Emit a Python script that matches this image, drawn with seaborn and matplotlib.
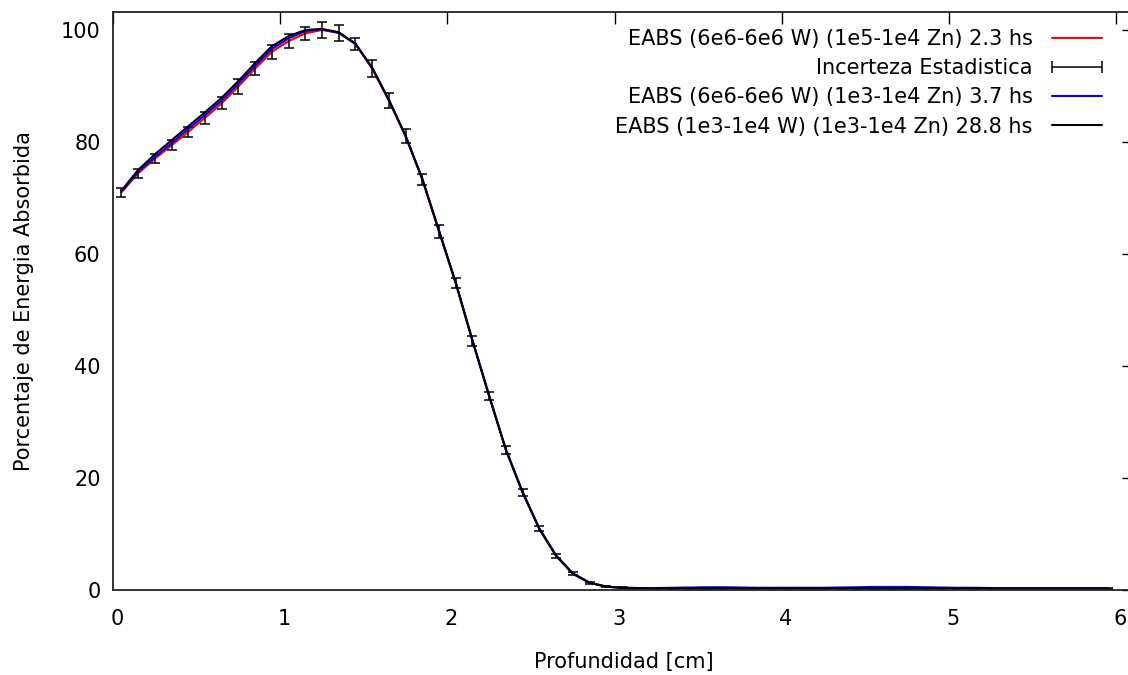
import numpy as np
import pandas as pd
import matplotlib
matplotlib.use("Agg")
import matplotlib.pyplot as plt
import matplotlib.transforms as mtransforms
import seaborn as sns
from matplotlib.lines import Line2D

# ---------------- data ----------------
depth = [0.05, 0.15, 0.25, 0.35, 0.45, 0.55, 0.65, 0.75, 0.85, 0.95,
         1.05, 1.15, 1.25, 1.35, 1.45, 1.55, 1.65, 1.75, 1.85, 1.95,
         2.05, 2.15, 2.25, 2.35, 2.45, 2.55, 2.65, 2.75, 2.85, 2.95,
         3.05, 3.15, 3.25, 3.35, 3.45, 3.55, 3.65, 3.75, 3.85, 3.95,
         4.05, 4.15, 4.25, 4.35, 4.45, 4.55, 4.65, 4.75, 4.85, 4.95,
         5.05, 5.15, 5.25, 5.35, 5.45, 5.55, 5.65, 5.75, 5.85, 5.95]

# EABS (6e6-6e6 W) (1e5-1e4 Zn) 2.3 hs  (red)
eabs_red = [71.0, 74.4, 77.0, 79.4, 81.8, 84.3, 86.9, 89.9, 93.1, 96.1,
            98.0, 99.4, 100.0, 99.5, 97.5, 93.1, 87.4, 81.0, 73.3, 64.0,
            54.8, 44.5, 34.6, 25.0, 17.4, 10.9, 6.1, 2.9, 1.3, 0.6,
            0.4, 0.35, 0.3, 0.3, 0.3, 0.3, 0.3, 0.3, 0.3, 0.3,
            0.3, 0.3, 0.3, 0.3, 0.3, 0.3, 0.3, 0.3, 0.3, 0.3,
            0.3, 0.3, 0.3, 0.3, 0.3, 0.3, 0.3, 0.3, 0.3, 0.3]

# statistical uncertainty of the red series
err_red = [0.85, 0.75, 0.8, 0.9, 0.9, 1.1, 1.05, 1.3, 1.2, 1.3,
           1.2, 1.1, 1.4, 1.4, 1.1, 1.5, 1.4, 1.25, 1.0, 1.1,
           0.95, 0.85, 0.7, 0.65, 0.55, 0.45, 0.36, 0.3, 0.2, 0.12,
           0.08, 0.08, 0.08, 0.08, 0.08, 0.08, 0.08, 0.08, 0.08, 0.08,
           0.08, 0.08, 0.08, 0.08, 0.08, 0.08, 0.08, 0.08, 0.08, 0.08,
           0.08, 0.08, 0.08, 0.08, 0.08, 0.08, 0.08, 0.08, 0.08, 0.08]

# EABS (6e6-6e6 W) (1e3-1e4 Zn) 3.7 hs  (blue)
eabs_blue = [71.1, 74.7, 77.3, 79.8, 82.3, 84.8, 87.4, 90.4, 93.6, 96.6,
             98.5, 99.8, 100.1, 99.5, 97.5, 93.2, 87.5, 81.1, 73.4, 64.2,
             54.9, 44.6, 34.7, 25.1, 17.5, 11.0, 6.2, 3.0, 1.3, 0.6,
             0.4, 0.35, 0.35, 0.4, 0.45, 0.5, 0.5, 0.45, 0.4, 0.4,
             0.4, 0.4, 0.4, 0.45, 0.5, 0.55, 0.55, 0.55, 0.5, 0.45,
             0.4, 0.4, 0.35, 0.35, 0.35, 0.35, 0.35, 0.35, 0.35, 0.35]

# EABS (1e3-1e4 W) (1e3-1e4 Zn) 28.8 hs  (black)
eabs_black = [71.3, 75.0, 77.8, 80.3, 82.8, 85.3, 87.9, 90.9, 94.1, 97.1,
              98.9, 100.0, 100.2, 99.6, 97.6, 93.3, 87.5, 81.1, 73.4, 64.1,
              54.8, 44.5, 34.6, 25.0, 17.4, 10.9, 6.1, 2.9, 1.3, 0.6,
              0.35, 0.3, 0.3, 0.3, 0.3, 0.3, 0.3, 0.3, 0.3, 0.3,
              0.3, 0.3, 0.3, 0.3, 0.3, 0.3, 0.3, 0.3, 0.3, 0.3,
              0.3, 0.3, 0.3, 0.3, 0.3, 0.3, 0.3, 0.3, 0.3, 0.3]

labels = ["EABS (6e6-6e6 W) (1e5-1e4 Zn) 2.3 hs",
          "Incerteza Estadistica",
          "EABS (6e6-6e6 W) (1e3-1e4 Zn) 3.7 hs",
          "EABS (1e3-1e4 W) (1e3-1e4 Zn) 28.8 hs"]
x_ticks = [0, 1, 2, 3, 4, 5, 6]
y_ticks = [0, 20, 40, 60, 80, 100]

# ---------------- style ----------------
sns.set_theme(style="white")
plt.rcParams['font.family'] = ['DejaVu Sans']
plt.rcParams['text.color'] = 'black'
plt.rcParams['axes.labelcolor'] = 'black'
FS = 15

W, H = 1128, 675
fig = plt.figure(figsize=(W / 100, H / 100), dpi=100)
left_px, right_px, top_px, bottom_px = 113, 1134, 12, 590
ax = fig.add_axes([left_px / W, (H - bottom_px) / H,
                   (right_px - left_px) / W, (bottom_px - top_px) / H])

df_red = pd.DataFrame({"depth": depth, "value": eabs_red})
df_blue = pd.DataFrame({"depth": depth, "value": eabs_blue})
df_black = pd.DataFrame({"depth": depth, "value": eabs_black})

lw = 1.5
sns.lineplot(data=df_red, x="depth", y="value", color="#ff0000", linewidth=lw, ax=ax)
ax.errorbar(depth, eabs_red, yerr=err_red, fmt="none", ecolor="black",
            elinewidth=1.1, capsize=3.6, capthick=1.1)
sns.lineplot(data=df_blue, x="depth", y="value", color="#0000ff", linewidth=lw, ax=ax)
sns.lineplot(data=df_black, x="depth", y="value", color="black", linewidth=lw, ax=ax)

ax.set_xlim(0, (right_px - left_px) / 167.2)
ax.set_ylim(0, (bottom_px - top_px) / 5.6)
ax.set_xticks(x_ticks)
ax.set_yticks(y_ticks)
ax.tick_params(direction="in", length=8.5, width=1.0, top=True, right=True,
               labelsize=FS, colors="black")
ax.tick_params(axis="x", pad=13.5)
ax.tick_params(axis="y", pad=9)
# gnuplot places the x tick labels a few pixels right of their ticks
shift = mtransforms.ScaledTranslation(4 / 100, 0, fig.dpi_scale_trans)
for lab in ax.get_xticklabels():
    lab.set_transform(lab.get_transform() + shift)
for s in ax.spines.values():
    s.set_color("#222222")
    s.set_linewidth(1.3)

ax.set_xlabel("Profundidad [cm]", fontsize=FS, labelpad=17)
ax.set_ylabel("Porcentaje de Energia Absorbida", fontsize=FS, labelpad=19)

handles = [Line2D([], [], color="#ff0000", linewidth=lw),
           Line2D([], [], color="black", linewidth=1.1, marker="|",
                  markersize=9, markeredgewidth=1.1),
           Line2D([], [], color="#0000ff", linewidth=lw),
           Line2D([], [], color="black", linewidth=lw)]
ax.legend(handles, labels, loc="upper right",
          bbox_to_anchor=((1108 - left_px) / (right_px - left_px),
                          (bottom_px - 29) / (bottom_px - top_px)),
          frameon=False, fontsize=FS, markerfirst=False, numpoints=2,
          handlelength=3.0, handletextpad=0.62, labelspacing=0.44,
          borderpad=0, borderaxespad=0)

fig.savefig("out.png", dpi=100)
